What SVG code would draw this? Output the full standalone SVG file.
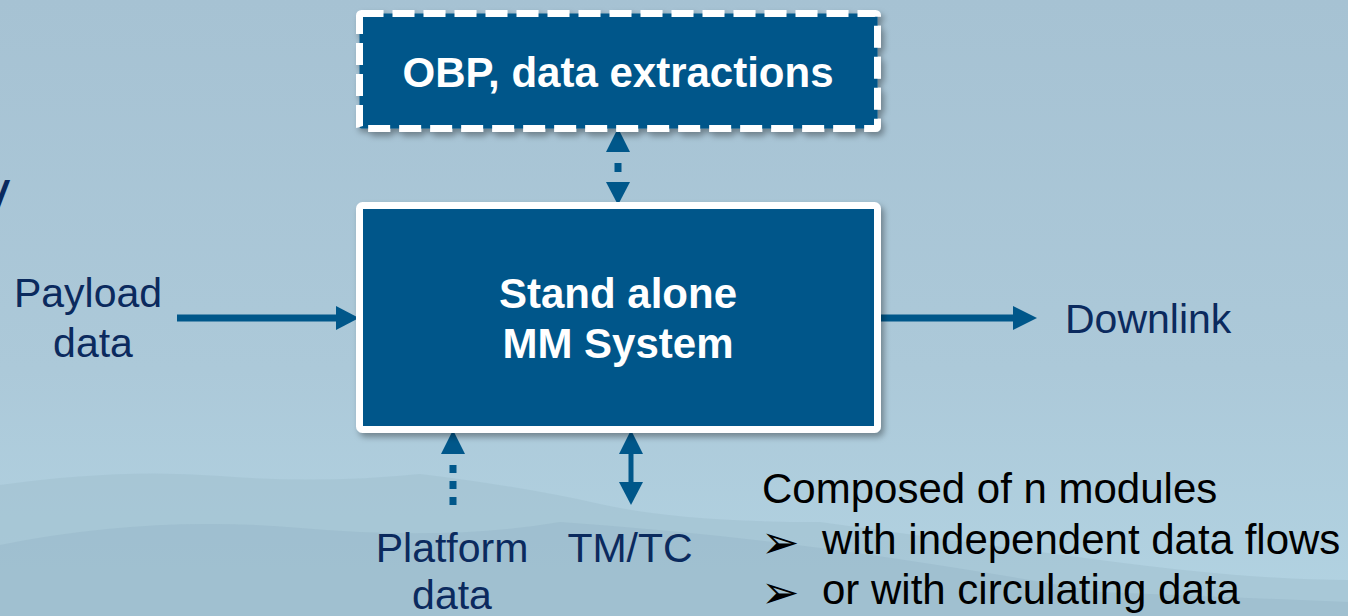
<svg xmlns="http://www.w3.org/2000/svg" width="1348" height="616" viewBox="0 0 1348 616">
<style>
.box{fill:#00578a;}
.bt{font-family:"Liberation Sans",Arial,sans-serif;font-weight:bold;font-size:42px;fill:#ffffff;text-anchor:middle;}
.lbl{font-family:"Liberation Sans",Arial,sans-serif;font-size:41px;fill:#0b2a5e;}
.blk{font-family:"Liberation Sans",Arial,sans-serif;font-size:42px;fill:#000000;}
.bul{font-family:"DejaVu Sans",sans-serif;font-size:46px;fill:#000000;}
.ar{stroke:#00578a;stroke-width:7;fill:none;}
.ah{fill:#00578a;}
</style>
<defs>
<linearGradient id="bg" x1="0" y1="0" x2="0" y2="1">
<stop offset="0" stop-color="#a6c2d3"/>
<stop offset="0.6" stop-color="#acc9d9"/>
<stop offset="1" stop-color="#b2d3e2"/>
</linearGradient>
<filter id="sh" x="-5%" y="-5%" width="115%" height="120%">
<feDropShadow dx="3" dy="4" stdDeviation="3" flood-color="#000" flood-opacity="0.35"/>
</filter>
</defs>
<rect x="0" y="0" width="1348" height="616" fill="url(#bg)"/>
<g id="mountains">
<path d="M0 485 Q120 468 220 476 T420 474 Q520 486 600 504 T820 522 Q950 540 1100 560 T1348 580 L1348 616 L0 616 Z" fill="#a2c1d1" opacity="0.6"/>
<path d="M0 545 Q150 515 300 528 T560 522 Q700 532 820 548 T1100 592 L1348 602 L1348 616 L0 616 Z" fill="#98b8ca" opacity="0.5"/>
</g>
<text x="-6" y="212" style="font-family:'Liberation Sans',Arial,sans-serif;font-weight:bold;font-style:italic;font-size:44px;fill:#0b2a5e;">/</text>
<g id="connectors">
<line class="ar" x1="177" y1="318" x2="340" y2="318"/>
<polygon class="ah" points="336,306 359,318 336,330"/>
<line class="ar" x1="880" y1="318" x2="1016" y2="318"/>
<polygon class="ah" points="1013,306 1037,318 1013,330"/>
<line class="ar" x1="618" y1="163" x2="618" y2="172"/>
<polygon class="ah" points="606,152 618,128 630,152"/>
<polygon class="ah" points="606,182 618,205 630,182"/>
<line class="ar" x1="453" y1="465" x2="453" y2="505" stroke-dasharray="8,8"/>
<polygon class="ah" points="441,454 453,430 465,454"/>
<line class="ar" x1="631" y1="452" x2="631" y2="485" style="stroke-width:5"/>
<polygon class="ah" points="619,454 631,430 643,454"/>
<polygon class="ah" points="619,482 631,505 643,482"/>
</g>
<g id="obp">
<rect class="box" x="359.5" y="13.5" width="518" height="115" stroke="#ffffff" stroke-width="7" stroke-dasharray="22,9" rx="2" filter="url(#sh)"/>
<text class="bt" x="618" y="87">OBP, data extractions</text>
</g>
<g id="mm">
<rect class="box" x="359.5" y="205.5" width="518" height="224" stroke="#ffffff" stroke-width="7" rx="3" filter="url(#sh)"/>
<text class="bt" x="618" y="308">Stand alone</text>
<text class="bt" x="618" y="358">MM System</text>
</g>
<g id="payload">
<text class="lbl" x="88" y="307" text-anchor="middle">Payload</text>
<text class="lbl" x="93" y="357" text-anchor="middle">data</text>
</g>
<g id="downlink">
<text class="lbl" x="1065" y="333">Downlink</text>
</g>
<g id="platform">
<text class="lbl" x="452" y="562" text-anchor="middle">Platform</text>
<text class="lbl" x="452" y="609" text-anchor="middle">data</text>
</g>
<g id="tmtc">
<text class="lbl" x="630" y="562" text-anchor="middle">TM/TC</text>
</g>
<g id="notes">
<text class="blk" x="762" y="503">Composed of n modules</text>
<text class="bul" x="761" y="558">➢</text>
<text class="blk" x="822" y="554">with independent data flows</text>
<text class="bul" x="761" y="608">➢</text>
<text class="blk" x="822" y="604">or with circulating data</text>
</g>
</svg>
